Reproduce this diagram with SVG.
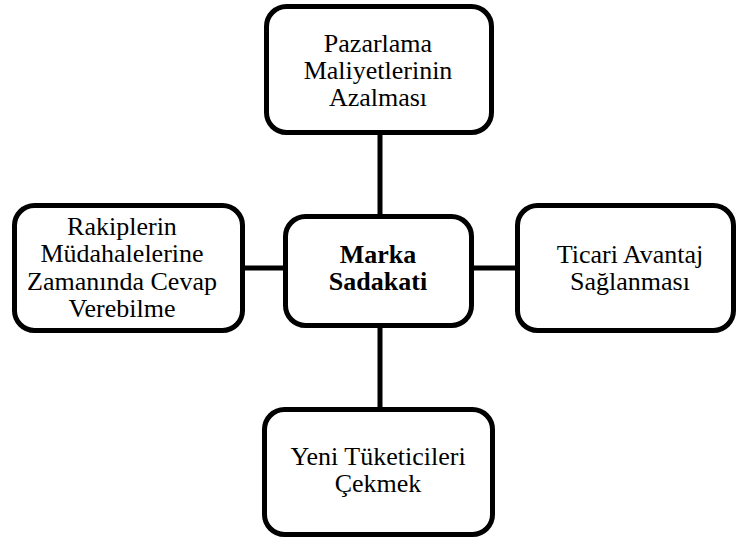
<svg xmlns="http://www.w3.org/2000/svg" width="738" height="537" viewBox="0 0 738 537">
<style>
.box{fill:#fff;stroke:#000;stroke-width:5}
.ln{stroke:#000;stroke-width:5;fill:none}
</style>
<rect width="738" height="537" fill="#fff"/>
<g id="connectors">
<line class="ln" x1="380" y1="133" x2="380" y2="216"/>
<line class="ln" x1="380" y1="326" x2="380" y2="409"/>
<line class="ln" x1="243" y1="268" x2="285" y2="268"/>
<line class="ln" x1="472" y1="268" x2="517" y2="268"/>
</g>
<g id="top">
<rect class="box" x="266.5" y="6.5" width="225" height="126" rx="20"/>
<text x="378" y="52" font-family="'Liberation Serif', 'Times New Roman', serif" font-size="26" text-anchor="middle">Pazarlama</text>
<text x="378" y="79" font-family="'Liberation Serif', 'Times New Roman', serif" font-size="26" text-anchor="middle">Maliyetlerinin</text>
<text x="378" y="106" font-family="'Liberation Serif', 'Times New Roman', serif" font-size="26" text-anchor="middle">Azalması</text>
</g>
<g id="left">
<rect class="box" x="14.5" y="205.5" width="228" height="125" rx="20"/>
<text x="122" y="235" font-family="'Liberation Serif', 'Times New Roman', serif" font-size="26" text-anchor="middle">Rakiplerin</text>
<text x="122" y="262" font-family="'Liberation Serif', 'Times New Roman', serif" font-size="26" text-anchor="middle">Müdahalelerine</text>
<text x="122" y="290" font-family="'Liberation Serif', 'Times New Roman', serif" font-size="26" text-anchor="middle">Zamanında Cevap</text>
<text x="122" y="317" font-family="'Liberation Serif', 'Times New Roman', serif" font-size="26" text-anchor="middle">Verebilme</text>
</g>
<g id="center">
<rect class="box" x="285.5" y="216.5" width="186" height="109" rx="20"/>
<text x="378" y="263" font-family="'Liberation Serif', 'Times New Roman', serif" font-size="26" font-weight="bold" text-anchor="middle">Marka</text>
<text x="378" y="290" font-family="'Liberation Serif', 'Times New Roman', serif" font-size="26" font-weight="bold" text-anchor="middle">Sadakati</text>
</g>
<g id="right">
<rect class="box" x="517.5" y="205.5" width="216" height="125" rx="20"/>
<text x="630" y="263" font-family="'Liberation Serif', 'Times New Roman', serif" font-size="26" text-anchor="middle">Ticari Avantaj</text>
<text x="630" y="290" font-family="'Liberation Serif', 'Times New Roman', serif" font-size="26" text-anchor="middle">Sağlanması</text>
</g>
<g id="bottom">
<rect class="box" x="264.5" y="409.5" width="228" height="125" rx="20"/>
<text x="378" y="465" font-family="'Liberation Serif', 'Times New Roman', serif" font-size="26" text-anchor="middle">Yeni Tüketicileri</text>
<text x="378" y="492" font-family="'Liberation Serif', 'Times New Roman', serif" font-size="26" text-anchor="middle">Çekmek</text>
</g>
</svg>
